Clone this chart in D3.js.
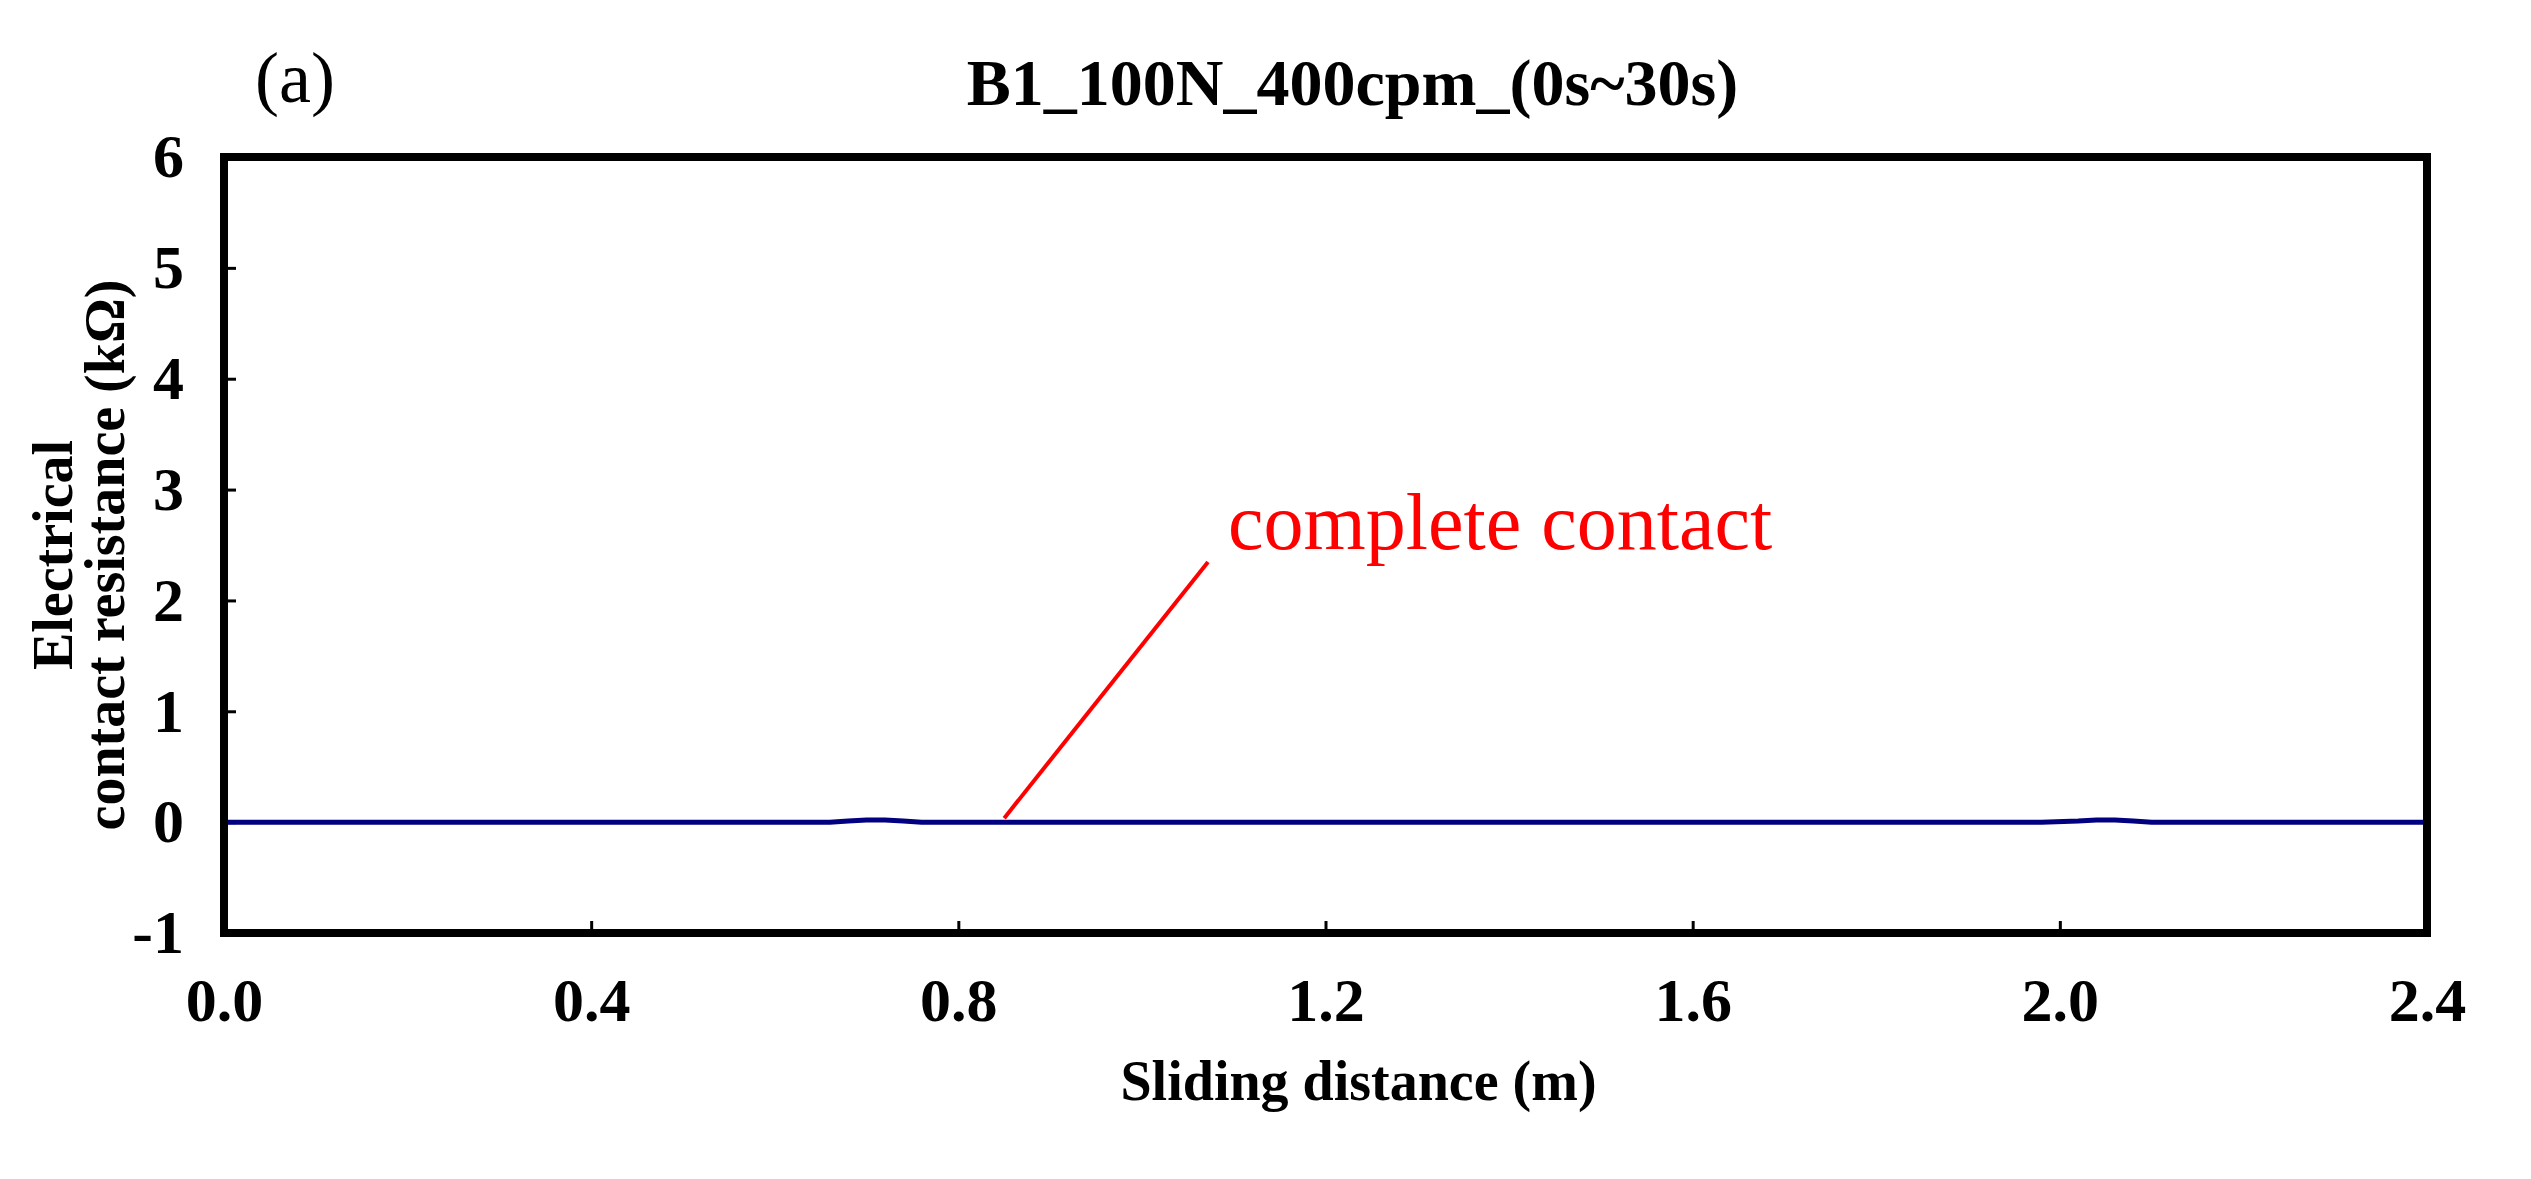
<!DOCTYPE html>
<html><head><meta charset="utf-8">
<script src="https://cdn.jsdelivr.net/npm/d3@7"></script>
<style>body{margin:0;background:#fff}text{font-family:"Liberation Serif","Times New Roman",serif}</style>
</head><body>
<svg id="c" width="2531" height="1179"></svg>
<script>
const xTicks=[0.0,0.4,0.8,1.2,1.6,2.0,2.4];
const yTicks=[-1,0,1,2,3,4,5,6];
const distance=[0,0.2,0.4,0.6,0.66,0.68,0.70,0.72,0.74,0.76,0.9,1.2,1.5,1.8,1.98,2.02,2.04,2.06,2.08,2.10,2.3,2.4];
const resistance=[0,0,0,0,0,0.01,0.02,0.02,0.01,0,0,0,0,0,0,0.01,0.02,0.02,0.01,0,0,0];
const title="B1_100N_400cpm_(0s~30s)";
const svg=d3.select("#c");
const L=224,R=2427,T=157,B=933;
const x=d3.scaleLinear().domain([0,2.4]).range([L,R]);
const y=d3.scaleLinear().domain([-1,6]).range([B,T]);
const g=svg.append("g");
g.append("g").attr("transform",`translate(0,${B})`).call(d3.axisBottom(x).tickValues(xTicks).tickFormat(d3.format(".1f")).tickSizeInner(-12).tickSizeOuter(0).tickPadding(44))
 .call(a=>{a.select(".domain").remove();a.selectAll("line").attr("stroke","#000").attr("stroke-width",3);a.selectAll("text").attr("font-size",62).attr("font-weight","bold").attr("fill","#000").attr("dy","0.71em")});
g.append("g").attr("transform",`translate(${L},0)`).call(d3.axisLeft(y).tickValues(yTicks).tickFormat(d=>String(d)).tickSizeInner(-12).tickSizeOuter(0).tickPadding(40))
 .call(a=>{a.select(".domain").remove();a.selectAll("line").attr("stroke","#000").attr("stroke-width",3);a.selectAll("text").attr("font-size",62).attr("font-weight","bold").attr("fill","#000")});
svg.append("path").datum(distance.map((d,i)=>[d,resistance[i]])).attr("fill","none").attr("stroke","#000080").attr("stroke-width",5)
 .attr("d",d3.line().x(d=>x(d[0])).y(d=>y(d[1])));
svg.append("rect").attr("x",L).attr("y",T).attr("width",R-L).attr("height",B-T).attr("fill","none").attr("stroke","#000").attr("stroke-width",8);
svg.append("line").attr("x1",x(0.85)).attr("y1",y(0)-4).attr("x2",1208).attr("y2",562).attr("stroke","#ff0000").attr("stroke-width",4);
svg.append("text").attr("x",1228).attr("y",549).attr("font-size",80).attr("fill","#ff0000").text("complete contact");
svg.append("text").attr("x",(L+R)/2+27).attr("y",105).attr("text-anchor","middle").attr("font-size",66).attr("font-weight","bold").text(title);
svg.append("text").attr("x",255).attr("y",102).attr("font-size",72).text("(a)");
svg.append("text").attr("x",(L+R)/2+33).attr("y",1100).attr("text-anchor","middle").attr("font-size",56).attr("font-weight","bold").text("Sliding distance (m)");
const yl=svg.append("text").attr("transform",`translate(0,${(T+B)/2+10}) rotate(-90)`).attr("text-anchor","middle").attr("font-size",56).attr("font-weight","bold");
yl.append("tspan").attr("x",0).attr("y",72).text("Electrical");
yl.append("tspan").attr("x",0).attr("y",124).text("contact resistance (kΩ)");
</script></body></html>
